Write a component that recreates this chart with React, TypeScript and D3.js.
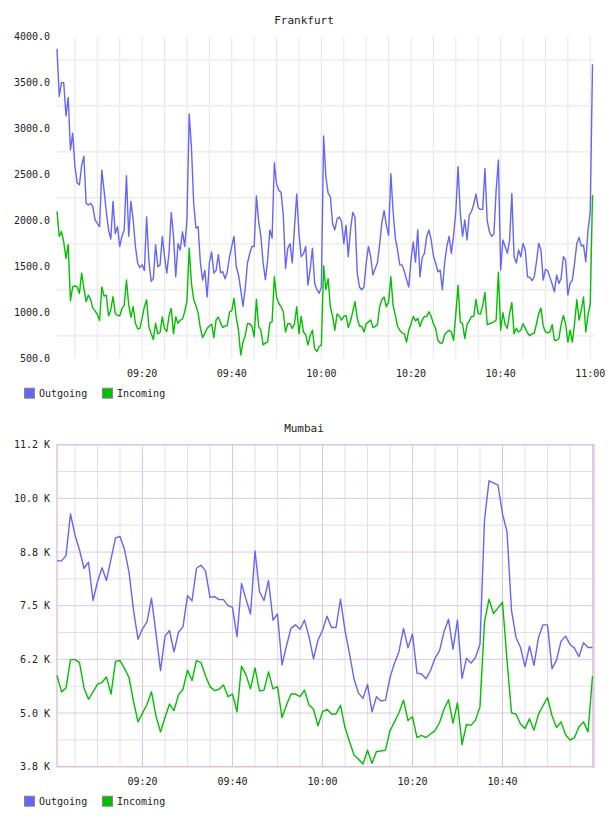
import React from 'react'
import * as d3 from 'd3'

/* page and plot geometry */
const width = 608
const height = 816
const plotLeft = 57
const plotRight = 594
const lineEnd = 592.5
const plotHeight = 322
const font = '"DejaVu Sans Mono", monospace'

/* first sample of both charts is 09:01 */
const startTime = new Date(2021, 0, 1, 9, 1, 0)

/* Frankfurt, one sample every 30 s */
const frankfurtStepSec = 30
const frankfurtOutgoing = [
    3870, 3350, 3500, 3500, 3140, 3340, 2770, 2950, 2590, 2410,
    2390, 2600, 2700, 2190, 2170, 2190, 2150, 2010, 1970, 1935,
    2550, 2330, 2100, 1900, 1800, 2210, 1860, 1935, 1720, 1830,
    1900, 2490, 1830, 2210, 2010, 1720, 1540, 1490, 1520, 1460,
    2040, 1570, 1340, 1370, 1740, 1500, 1520, 1830, 1610, 1430,
    1650, 2090, 1830, 1390, 1750, 1680, 1880, 1720, 2010, 3160,
    2800, 2190, 1920, 1935, 1540, 1355, 1460, 1170, 1540, 1660,
    1430, 1460, 1630, 1435, 1445, 1370, 1445, 1610, 1720, 1830,
    1500, 1410, 1250, 1070, 1260, 1540, 1640, 1720, 1720, 2270,
    1990, 1830, 1540, 1360, 1570, 1900, 1810, 2630, 2400, 2330,
    2310, 2060, 1480, 1700, 1750, 1540, 1930, 2290, 1860, 1610,
    1640, 1720, 1300, 1470, 1700, 1320, 1250, 1210, 1280, 2920,
    2480, 2300, 2260, 1970, 1900, 2020, 2040, 1990, 1750, 1950,
    1610, 1900, 2090, 2040, 1430, 1280, 1250, 1280, 1540, 1720,
    1610, 1410, 1480, 1540, 1740, 1980, 2110, 1950, 1840, 2510,
    2100, 1810, 1680, 1520, 1520, 1450, 1360, 1280, 1570, 1770,
    1550, 1900, 1390, 1600, 1645, 1826, 1900, 1790, 1616, 1540,
    1445, 1463, 1250, 1540, 1720, 1830, 1645, 1840, 2100, 2587,
    2080, 1830, 2007, 1790, 2060, 2100, 2181, 2290, 2141, 2123,
    2123, 2568, 2000, 1880, 1830, 1855, 2333, 2659, 1463, 1790,
    1720, 1645, 1790, 2297, 1608, 1540, 1681, 1608, 1753, 1681,
    1391, 1384, 1348, 1391, 1554, 1753, 1681, 1355, 1471, 1456,
    1384, 1311, 1228, 1409, 1319, 1373, 1608, 1572, 1192, 1319,
    1355, 1536, 1753, 1818, 1724, 1735, 1554, 1898, 2100, 3700,
]
const frankfurtIncoming = [
    2100, 1830, 1880, 1770, 1590, 1740, 1130, 1280, 1290, 1280,
    1210, 1430, 1265, 1120, 1190, 1145, 1050, 1020, 980, 915,
    1280, 1180, 1190, 965, 1030, 1175, 995, 970, 965, 1045,
    1080, 1355, 1085, 950, 1065, 885, 825, 830, 940, 1065,
    1140, 850, 775, 710, 885, 770, 785, 955, 830, 795,
    965, 1045, 770, 955, 885, 920, 930, 1010, 1130, 1700,
    1320, 1145, 1075, 995, 830, 730, 775, 830, 855, 875,
    730, 920, 950, 890, 840, 855, 860, 1010, 1020, 1155,
    950, 810, 540, 680, 750, 880, 880, 850, 740, 1145,
    850, 810, 650, 670, 680, 890, 900, 1390, 1170, 1100,
    1065, 1010, 790, 880, 880, 830, 880, 1065, 770, 960,
    790, 760, 650, 750, 810, 610, 580, 630, 650, 1510,
    1250, 1370, 1065, 960, 810, 985, 963, 920, 960, 970,
    840, 910, 1010, 1120, 940, 855, 850, 790, 880, 900,
    920, 840, 850, 870, 1065, 1140, 1170, 1065, 1120, 1390,
    1080, 970, 850, 810, 780, 770, 680, 810, 880, 960,
    910, 940, 850, 920, 960, 960, 1010, 960, 880, 830,
    700, 670, 670, 760, 790, 810, 790, 700, 990, 1300,
    900, 880, 720, 870, 910, 960, 960, 1145, 990, 985,
    1080, 1220, 870, 880, 890, 900, 920, 1440, 810, 1000,
    870, 830, 990, 1110, 770, 830, 790, 810, 880, 830,
    780, 750, 770, 775, 880, 990, 1050, 855, 790, 780,
    790, 870, 700, 700, 720, 870, 970, 880, 680, 810,
    680, 880, 1140, 920, 1030, 1170, 790, 970, 1100, 2280,
]
const frankfurtYTicks = [500, 1000, 1500, 2000, 2500, 3000, 3500, 4000]
const frankfurtYGrid = [750, 1250, 1750, 2250, 2750, 3250, 3750]

/* Mumbai, one sample per minute */
const mumbaiStepSec = 60
const mumbaiOutgoing = [
    8530, 8530, 8650, 9610, 9120, 8780, 8360, 8500, 7620, 8050,
    8370, 8080, 8570, 9060, 9090, 8790, 8270, 7400, 6730, 6970,
    7130, 7670, 6860, 6010, 6800, 6930, 6440, 6890, 7020, 7730,
    7610, 8360, 8430, 8300, 7690, 7710, 7640, 7640, 7500, 7460,
    6790, 8010, 7650, 7310, 8760, 7820, 7620, 8080, 7170, 7310,
    6140, 6580, 6980, 7060, 6960, 7170, 6790, 6280, 6710, 6930,
    7260, 7000, 7000, 7650, 6930, 6400, 5820, 5490, 5370, 5690,
    5060, 5410, 5310, 5330, 5850, 6180, 6450, 6980, 6530, 6850,
    5950, 5930, 5820, 6010, 6290, 6460, 6900, 7190, 6500, 7170,
    5830, 6290, 6180, 6310, 6620, 9470, 10370, 10320, 10270, 9610,
    9200, 7390, 6770, 6540, 6100, 6570, 6130, 6770, 7060, 7060,
    6050, 6250, 6680, 6800, 6610, 6520, 6330, 6650, 6540, 6540,
]
const mumbaiIncoming = [
    5900, 5520, 5610, 6260, 6260, 6190, 5610, 5350, 5520, 5690,
    5740, 5860, 5470, 6220, 6240, 6060, 5850, 5300, 4830, 5030,
    5230, 5520, 4960, 4600, 4930, 5240, 5090, 5450, 5580, 6020,
    5780, 6240, 6190, 5890, 5640, 5550, 5580, 5680, 5410, 5470,
    5060, 6110, 5910, 5590, 6070, 5540, 5560, 5980, 5590, 5640,
    4930, 5220, 5470, 5470, 5410, 5560, 5220, 5120, 4740, 5060,
    5120, 5010, 5010, 5210, 4700, 4380, 4070, 3970, 3860, 4180,
    3880, 4150, 4160, 4180, 4630, 4830, 5040, 5330, 4860, 4950,
    4470, 4520, 4470, 4550, 4630, 4810, 5120, 5340, 4800, 5270,
    4310, 4770, 4750, 4870, 5180, 7130, 7650, 7320, 7450, 7580,
    6250, 5040, 5010, 4780, 4680, 4900, 4640, 5010, 5200, 5390,
    4970, 4700, 4830, 4540, 4410, 4470, 4720, 4830, 4600, 5880,
]
const mumbaiYTicks = [3800, 5033, 6267, 7500, 8733, 9967, 11200]
const mumbaiYLabels = ['3.8 K', '5.0 K', '6.2 K', '7.5 K', '8.8 K', '10.0 K', '11.2 K']
const mumbaiYGrid = [4417, 5650, 6883, 8117, 9350, 10583]

const seriesNames = ['Outgoing', 'Incoming']
const seriesColors = ['#6464ff', '#00c000']

const sampleTimes = (n, stepSec) =>
    d3.range(n).map((i) => new Date(startTime.getTime() + i * stepSec * 1000))

function Chart({ title, top, outgoing, incoming, stepSec, yDomain, yTicks, yLabels, yGrid, lined }) {
    const bottom = top + plotHeight
    const dates = sampleTimes(outgoing.length, stepSec)
    const x = d3.scaleTime().domain(d3.extent(dates)).range([plotLeft, lineEnd])
    const y = d3.scaleLinear().domain(yDomain).range([bottom, top])
    const line = d3
        .line()
        .x((d) => x(d[0]))
        .y((d) => y(d[1]))

    const end = dates[dates.length - 1]
    const gridTimes = d3.timeMinute.every(5).range(dates[0], new Date(end.getTime() + 60000))
    const labelTimes = gridTimes.filter((t) => t.getMinutes() % 20 === 0 && t < end)
    const fmt = d3.timeFormat('%H:%M')
    const major = '#dec6de'
    const minor = '#e3dfe3'

    return (
        <g>
            <text x={width / 2} y={top - 12.5} textAnchor="middle" fontSize="11px" fill="#222">
                {title}
            </text>
            {/* vertical grid */}
            {gridTimes.map((t, i) => {
                const isMajor = lined && t.getMinutes() % 20 === 0
                return (
                    <line
                        key={'v' + i}
                        x1={x(t)}
                        x2={x(t)}
                        y1={top}
                        y2={bottom}
                        stroke={lined ? (isMajor ? major : minor) : '#e6e6e6'}
                        strokeWidth={1}
                    />
                )
            })}
            {/* horizontal grid */}
            {yGrid.map((v, i) => (
                <line
                    key={'h' + i}
                    x1={plotLeft}
                    x2={plotRight}
                    y1={y(v)}
                    y2={y(v)}
                    stroke={lined ? minor : '#efefef'}
                    strokeWidth={lined ? 1 : 2}
                />
            ))}
            {lined &&
                yTicks.map((v, i) => (
                    <line key={'m' + i} x1={plotLeft} x2={plotRight} y1={y(v)} y2={y(v)} stroke={major} />
                ))}
            {lined && (
                <rect
                    x={plotLeft}
                    y={top}
                    width={plotRight - plotLeft}
                    height={plotHeight}
                    fill="none"
                    stroke={major}
                    strokeWidth={1.5}
                />
            )}
            {/* series */}
            {[outgoing, incoming].map((s, i) => (
                <path
                    key={'s' + i}
                    d={line(s.map((v, j) => [dates[j], v]))}
                    fill="none"
                    stroke={seriesColors[i]}
                    strokeWidth={1.4}
                    strokeLinejoin="round"
                />
            ))}
            {/* y labels */}
            {yTicks.map((v, i) => (
                <text
                    key={'y' + i}
                    x={50}
                    y={y(v)}
                    dy="0.35em"
                    textAnchor="end"
                    fontSize="10px"
                    fill="#222"
                >
                    {yLabels ? yLabels[i] : d3.format('.1f')(v)}
                </text>
            ))}
            {/* x labels */}
            {labelTimes.map((t, i) => (
                <text key={'x' + i} x={x(t)} y={bottom + 18} textAnchor="middle" fontSize="10px" fill="#222">
                    {fmt(t)}
                </text>
            ))}
            {/* legend */}
            {seriesNames.map((name, i) => (
                <g key={'l' + i} transform={`translate(${24 + i * 78}, ${bottom + 29})`}>
                    <rect x={0.5} y={0.5} width={10} height={10} fill={seriesColors[i]} stroke="#888" />
                    <text x={15} y={9} fontSize="10px" fill="#222">
                        {name}
                    </text>
                </g>
            ))}
        </g>
    )
}

export default function App() {
    return (
        <div>
            <style>{'body{margin:0;background:#fff}'}</style>
            <svg width={width} height={height} style={{ display: 'block', fontFamily: font, overflow: 'visible' }}>
                <Chart
                    title="Frankfurt"
                    top={36.7}
                    outgoing={frankfurtOutgoing}
                    incoming={frankfurtIncoming}
                    stepSec={frankfurtStepSec}
                    yDomain={[500, 4000]}
                    yTicks={frankfurtYTicks}
                    yGrid={frankfurtYGrid}
                    lined={false}
                />
                <Chart
                    title="Mumbai"
                    top={444.7}
                    outgoing={mumbaiOutgoing}
                    incoming={mumbaiIncoming}
                    stepSec={mumbaiStepSec}
                    yDomain={[3800, 11200]}
                    yTicks={mumbaiYTicks}
                    yLabels={mumbaiYLabels}
                    yGrid={mumbaiYGrid}
                    lined={true}
                />
            </svg>
        </div>
    )
}
